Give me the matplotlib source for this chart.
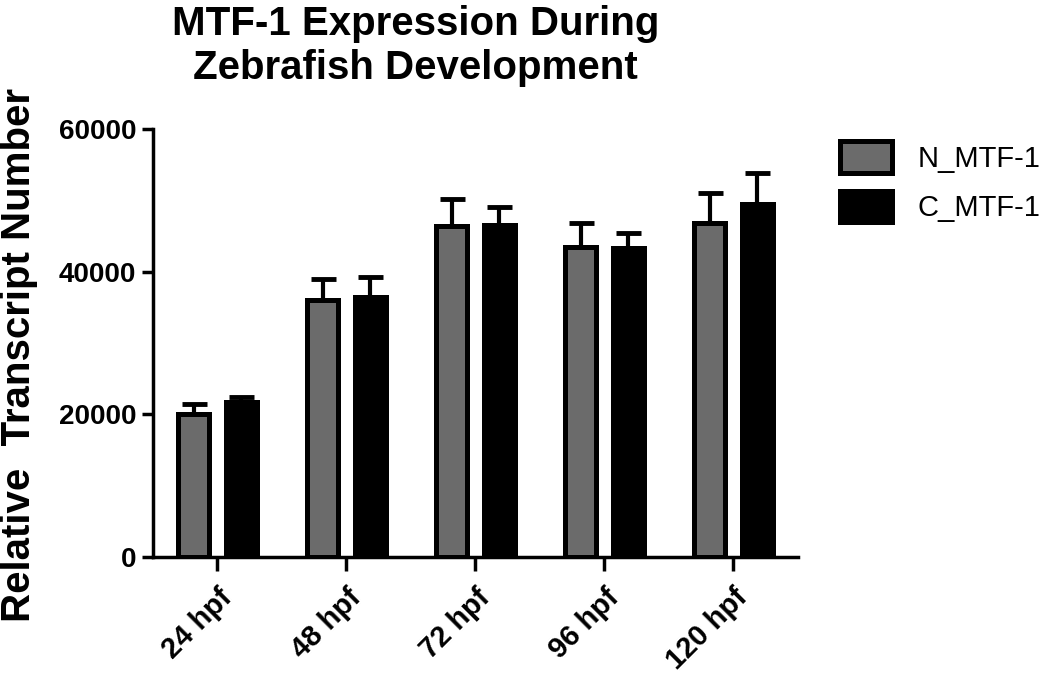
import matplotlib
matplotlib.use("Agg")
import matplotlib.pyplot as plt
import matplotlib.transforms as mtransforms
import numpy as np

plt.rcParams['font.family'] = ['Liberation Sans', 'DejaVu Sans']

# values
stages = ["24 hpf", "48 hpf", "72 hpf", "96 hpf", "120 hpf"]
n_mtf1 = [20000, 36000, 46400, 43500, 46800]
n_err = [1400, 3000, 3800, 3300, 4300]
c_mtf1 = [21800, 36400, 46500, 43300, 49500]
c_err = [700, 2900, 2600, 2100, 4300]

fig = plt.figure(figsize=(10.5, 6.76), dpi=100)
ax = fig.add_axes([0.1457, 0.176, 0.6143, 0.633])

x = np.arange(len(stages))
w = 0.24
off = 0.185
grey = "#6b6b6b"

ax.bar(x - off, n_mtf1, w, color=grey, edgecolor="black", linewidth=3.6,
       label="N_MTF-1", zorder=3)
ax.bar(x + off, c_mtf1, w, color="black", edgecolor="black", linewidth=3.6,
       label="C_MTF-1", zorder=3)

for xs, vals, errs in [(x - off, n_mtf1, n_err), (x + off, c_mtf1, c_err)]:
    ax.errorbar(xs, vals, yerr=[np.zeros(len(errs)), errs], fmt="none",
                ecolor="black", elinewidth=3, capsize=9, capthick=3.5, zorder=2)

ax.set_xlim(-0.5, 4.5)
ax.set_ylim(0, 60000)
ax.set_yticks([0, 20000, 40000, 60000])
ax.set_xticks(x)
ax.set_xticklabels(stages, rotation=45, ha="right", va="top",
                   rotation_mode="anchor", fontsize=21, fontweight="bold")
shift = mtransforms.ScaledTranslation(-6 / 100, 0, fig.dpi_scale_trans)
for lab in ax.get_xticklabels():
    lab.set_transform(lab.get_transform() + shift)
for lab in ax.get_yticklabels():
    lab.set_fontsize(20)
    lab.set_fontweight("bold")

for s in ["top", "right"]:
    ax.spines[s].set_visible(False)
for s in ["left", "bottom"]:
    ax.spines[s].set_linewidth(2.5)
ax.tick_params(axis="y", length=8, width=2.5, pad=4)
ax.tick_params(axis="x", length=10, width=2.5, pad=9)

ax.set_ylabel("Relative  Transcript Number", fontsize=29, fontweight="bold")
ax.yaxis.set_label_coords(-0.178, 0.472)

fig.text(0.396, 0.992, "MTF-1 Expression During\nZebrafish Development",
         ha="center", va="top", fontsize=29, fontweight="bold",
         linespacing=1.2)

leg = ax.legend(loc="upper left", bbox_to_anchor=(1.025, 1.033), frameon=False,
                fontsize=21, handlelength=1.78, handleheight=1.3,
                handletextpad=0.86, labelspacing=0.6)

fig.savefig("out.png", dpi=100)
